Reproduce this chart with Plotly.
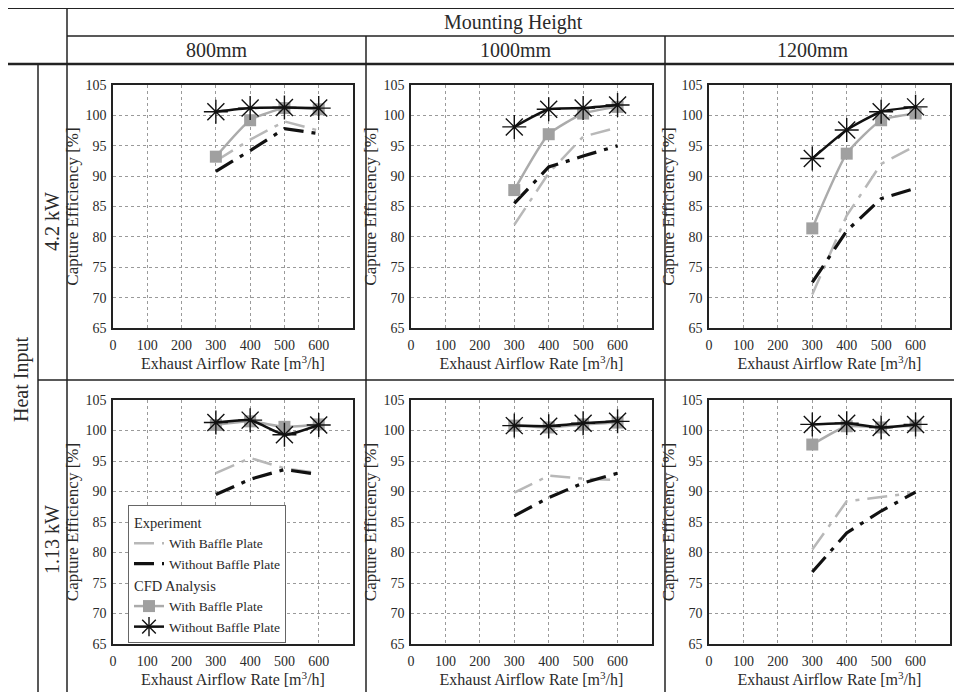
import plotly.graph_objects as go

# page offset (body margin) and figure size that fits the window
OFF = 8
FW, FH = 946, 684

# ---------------- data ----------------
airflow = [300, 400, 500, 600]
heights = ["800mm", "1000mm", "1200mm"]
heat_inputs = ["4.2 kW", "1.13 kW"]
x_ticks = [0, 100, 200, 300, 400, 500, 600]
y_ticks = [65, 70, 75, 80, 85, 90, 95, 100, 105]

# 4.2 kW
exp_with_42_800 = [92.5, 96.0, 99.0, 97.5]
exp_without_42_800 = [90.8, 94.2, 97.8, 97.0]
cfd_with_42_800 = [93.2, 99.2, 101.2, 101.0]
cfd_without_42_800 = [100.6, 101.2, 101.3, 101.2]

exp_with_42_1000 = [82.0, 90.5, 96.5, 98.0]
exp_without_42_1000 = [85.5, 91.5, 93.3, 95.0]
cfd_with_42_1000 = [87.7, 96.9, 100.3, 101.4]
cfd_without_42_1000 = [98.1, 101.0, 101.2, 101.7]

exp_with_42_1200 = [70.5, 83.5, 92.0, 95.0]
exp_without_42_1200 = [72.5, 81.0, 86.3, 88.0]
cfd_with_42_1200 = [81.4, 93.7, 99.2, 100.3]
cfd_without_42_1200 = [92.9, 97.6, 100.6, 101.4]

# 1.13 kW
exp_with_113_800 = [93.0, 95.5, 93.8, 93.0]
exp_without_113_800 = [89.5, 92.0, 93.6, 92.8]
cfd_with_113_800 = [100.9, 101.5, 100.6, 101.0]
cfd_without_113_800 = [101.3, 101.7, 99.3, 100.9]

exp_with_113_1000 = [89.8, 92.6, 92.1, 91.9]
exp_without_113_1000 = [86.0, 89.0, 91.4, 93.0]
cfd_with_113_1000 = [100.8, 100.5, 101.0, 101.3]
cfd_without_113_1000 = [100.8, 100.7, 101.2, 101.5]

exp_with_113_1200 = [80.5, 88.4, 89.1, 89.8]
exp_without_113_1200 = [76.8, 83.2, 86.8, 89.9]
cfd_with_113_1200 = [97.7, 100.7, 100.5, 100.8]
cfd_without_113_1200 = [101.0, 101.2, 100.5, 101.0]

panels = [
    [(exp_with_42_800, exp_without_42_800, cfd_with_42_800, cfd_without_42_800),
     (exp_with_42_1000, exp_without_42_1000, cfd_with_42_1000, cfd_without_42_1000),
     (exp_with_42_1200, exp_without_42_1200, cfd_with_42_1200, cfd_without_42_1200)],
    [(exp_with_113_800, exp_without_113_800, cfd_with_113_800, cfd_without_113_800),
     (exp_with_113_1000, exp_without_113_1000, cfd_with_113_1000, cfd_without_113_1000),
     (exp_with_113_1200, exp_without_113_1200, cfd_with_113_1200, cfd_without_113_1200)],
]

# ---------------- layout helpers ----------------
FONT = "Liberation Serif"
TXT = "#2a2a2a"

def px_x(p):
    return (p - OFF) / FW

def px_y(p):
    return 1 - (p - OFF) / FH

col_px = [(113, 353), (411, 652), (709, 950)]
row_px = [(85, 328), (400, 644)]

fig = go.Figure()
layout = {}

dash_pat = "20px,8px,4px,8px"

for r in range(2):
    for c in range(3):
        idx = r * 3 + c + 1
        xa = "x" if idx == 1 else f"x{idx}"
        ya = "y" if idx == 1 else f"y{idx}"
        ew, ewo, cw, cwo = panels[r][c]
        show = (r == 1 and c == 0)
        fig.add_trace(go.Scatter(
            x=airflow, y=ew, xaxis=xa, yaxis=ya, mode="lines",
            line=dict(color="#b8b8b8", width=2.5, dash=dash_pat),
            name="With Baffle Plate", legendgroup="exp",
            legendgrouptitle=dict(text="Experiment", font=dict(family=FONT, size=14.5, color=TXT)),
            showlegend=show))
        fig.add_trace(go.Scatter(
            x=airflow, y=ewo, xaxis=xa, yaxis=ya, mode="lines",
            line=dict(color="#111111", width=3.2, dash=dash_pat),
            name="Without Baffle Plate", legendgroup="exp",
            showlegend=show))
        fig.add_trace(go.Scatter(
            x=airflow, y=cw, xaxis=xa, yaxis=ya, mode="lines+markers",
            line=dict(color="#ababab", width=2.5, shape="spline", smoothing=0.5),
            marker=dict(symbol="square", size=12, color="#a0a0a0"),
            name="With Baffle Plate", legendgroup="cfd",
            legendgrouptitle=dict(text="CFD Analysis", font=dict(family=FONT, size=14.5, color=TXT)),
            showlegend=show))
        fig.add_trace(go.Scatter(
            x=airflow, y=cwo, xaxis=xa, yaxis=ya, mode="lines+markers",
            line=dict(color="#111111", width=2.5, shape="spline", smoothing=0.5),
            marker=dict(symbol="asterisk-open", size=20,
                        line=dict(color="#222222", width=1.4)),
            name="Without Baffle Plate", legendgroup="cfd",
            showlegend=show))

        x0, x1 = col_px[c]
        y0, y1 = row_px[r]
        layout["xaxis" if idx == 1 else f"xaxis{idx}"] = dict(
            domain=[px_x(x0), px_x(x1)], anchor=ya, range=[0, 700],
            tickvals=x_ticks, ticktext=[str(v) for v in x_ticks],
            showgrid=True, gridcolor="#9a9a9a", griddash="dot", gridwidth=1,
            showline=True, linecolor="#222", linewidth=1.6, mirror=True,
            zeroline=False, ticks="", ticklabelstandoff=3, automargin=False,
            tickfont=dict(family=FONT, size=14, color=TXT),
            title=dict(text="Exhaust Airflow Rate [m<sup>3</sup>/h]",
                       font=dict(family=FONT, size=16, color=TXT), standoff=5),
        )
        layout["yaxis" if idx == 1 else f"yaxis{idx}"] = dict(
            domain=[px_y(y1), px_y(y0)], anchor=xa, range=[65, 105],
            tickvals=y_ticks,
            showgrid=True, gridcolor="#9a9a9a", griddash="dot", gridwidth=1,
            showline=True, linecolor="#222", linewidth=1.6, mirror=True,
            zeroline=False, ticks="", ticklabelstandoff=2, automargin=False,
            tickfont=dict(family=FONT, size=14, color=TXT),
            title=dict(text="Capture Efficiency [%]",
                       font=dict(family=FONT, size=17, color=TXT), standoff=2),
        )

# ---------------- table lines ----------------
shapes = []
def hline(y, xa, xb, w):
    shapes.append(dict(type="line", xref="paper", yref="paper",
                       x0=max(px_x(xa), 0), x1=min(px_x(xb), 1), y0=px_y(y), y1=px_y(y),
                       line=dict(color="#222", width=w)))
def vline(x, ya, yb, w):
    shapes.append(dict(type="line", xref="paper", yref="paper",
                       x0=px_x(x), x1=px_x(x), y0=min(px_y(ya), 1), y1=max(px_y(yb), 0),
                       line=dict(color="#222", width=w)))

hline(8, 5, 962, 2)
hline(36, 67, 962, 1.5)
hline(64, 5, 962, 2.5)
hline(380, 38, 962, 1.5)
vline(67, 8, 700, 1.5)
vline(38, 64, 700, 1.5)
vline(366, 36, 700, 1.5)
vline(665, 36, 700, 1.5)

# ---------------- header / row labels ----------------
annotations = []
def ann(text, x, y, size=20, angle=0):
    annotations.append(dict(text=text, x=px_x(x), y=px_y(y), xref="paper", yref="paper",
                            showarrow=False, textangle=angle,
                            font=dict(family=FONT, size=size, color=TXT),
                            xanchor="center", yanchor="middle"))

ann("Mounting Height", 514, 22, 20)
ann(heights[0], 217, 50, 20)
ann(heights[1], 516, 50, 20)
ann(heights[2], 813, 50, 20)
ann(heat_inputs[0], 52, 222, 20, -90)
ann(heat_inputs[1], 52, 540, 20, -90)
ann("Heat Input", 21, 380, 20, -90)

fig.update_layout(
    **layout,
    width=FW, height=FH,
    margin=dict(l=0, r=0, t=0, b=0, autoexpand=False),
    paper_bgcolor="white", plot_bgcolor="white",
    shapes=shapes, annotations=annotations,
    showlegend=True,
    legend=dict(x=px_x(128), y=px_y(505), xanchor="left", yanchor="top",
                bgcolor="white", bordercolor="#666", borderwidth=1,
                font=dict(family=FONT, size=13.5, color=TXT),
                traceorder="grouped", tracegroupgap=0, itemwidth=30,
                ),
    font=dict(family=FONT, color=TXT),
)

fig.write_html("out.html")
